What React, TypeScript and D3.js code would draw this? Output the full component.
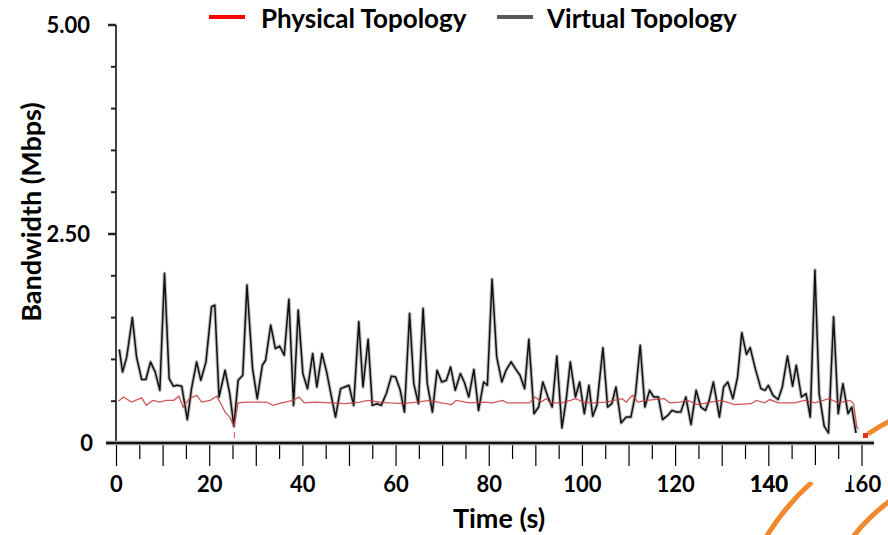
import { scaleLinear, line, range } from "d3";

const width = 888;
const height = 535;

// virtual topology bandwidth (Mbps)
const virtualTime = [
  0.6, 1.3, 2.2, 3.4, 4.3, 5.4, 6.3, 7.3, 8.3, 9.3, 10.3, 11.3, 12.2, 13.0, 14.0, 15.2, 16.1, 17.2, 18.1, 19.2,
  20.4, 21.1, 22.0, 23.3, 24.3, 25.2, 26.1, 27.1, 28.0, 29.2, 30.2, 31.3, 32.0, 33.1, 34.1, 35.0, 36.0, 37.0, 38.0, 39.0,
  40.0, 41.0, 42.1, 43.0, 44.1, 45.1, 46.0, 47.0, 48.1, 49.0, 49.9, 50.9, 52.0, 52.9, 54.0, 54.9, 55.9, 56.8, 57.9, 59.0,
  59.9, 60.9, 61.8, 62.9, 63.8, 64.8, 65.8, 66.7, 67.8, 68.8, 69.8, 70.8, 71.7, 72.7, 73.8, 74.7, 75.6, 76.7, 77.7, 78.8,
  79.6, 80.6, 81.6, 82.7, 83.6, 84.7, 85.6, 86.6, 87.6, 88.5, 89.6, 90.6, 91.5, 92.6, 93.5, 94.5, 95.6, 96.5, 97.4, 98.5,
  99.4, 100.4, 101.4, 102.2, 103.1, 104.4, 105.4, 106.3, 107.2, 108.3, 109.4, 110.4, 111.4, 112.4, 113.4, 114.4, 115.3,
  116.3, 117.2, 118.3, 119.2, 120.2, 121.1, 122.2, 123.3, 124.4, 125.4, 126.4, 127.2, 128.1, 129.4, 130.3, 131.2, 132.3,
  133.3, 134.2, 135.2, 136.0, 137.1, 138.3, 139.2, 139.9, 140.9, 142.0, 142.9, 144.0, 145.1, 145.9, 147.0, 148.0, 148.9,
  149.9, 150.8, 151.9, 152.8, 153.9, 154.9, 155.9, 157.0, 157.8, 158.7,
];
const virtualBw = [
  1.12, 0.85, 1.03, 1.5, 1.03, 0.76, 0.76, 0.97, 0.85, 0.63, 2.03, 0.77, 0.68, 0.69, 0.68, 0.28, 0.65, 0.97, 0.75, 0.97,
  1.63, 1.65, 0.55, 0.87, 0.59, 0.2, 0.75, 0.81, 1.89, 0.89, 0.53, 0.93, 0.99, 1.41, 1.13, 1.16, 1.05, 1.72, 0.45, 1.59,
  0.83, 0.65, 1.07, 0.67, 1.07, 0.85, 0.59, 0.31, 0.65, 0.67, 0.69, 0.45, 1.45, 0.67, 1.24, 0.45, 0.47, 0.45, 0.59, 0.8,
  0.79, 0.63, 0.37, 1.55, 0.71, 0.47, 1.61, 0.71, 0.37, 0.87, 0.73, 0.75, 0.91, 0.63, 0.83, 0.72, 0.55, 0.88, 0.39, 0.73,
  0.69, 1.96, 1.03, 0.73, 0.87, 0.97, 0.89, 0.81, 0.65, 1.24, 0.35, 0.43, 0.73, 0.55, 0.43, 1.04, 0.18, 0.51, 0.97, 0.55,
  0.73, 0.35, 0.69, 0.32, 0.45, 1.14, 0.43, 0.47, 0.67, 0.24, 0.31, 0.31, 0.59, 1.17, 0.43, 0.63, 0.55,
  0.55, 0.28, 0.33, 0.39, 0.37, 0.37, 0.55, 0.22, 0.63, 0.43, 0.39, 0.51, 0.73, 0.31, 0.67, 0.73, 0.53,
  0.79, 1.32, 1.06, 1.14, 0.89, 0.65, 0.63, 0.69, 0.57, 0.52, 0.67, 1.04, 0.68, 0.93, 0.55, 0.59, 0.31,
  2.07, 0.59, 0.2, 0.12, 1.51, 0.35, 0.71, 0.35, 0.43, 0.12,
];

// physical topology bandwidth (Mbps)
const physicalTime = [
  0.4, 1.5, 3.2, 5.4, 6.4, 7.8, 9.3, 10.7, 12.3, 13.4, 14.3, 15.6, 17.2, 18.3, 20.1, 21.5, 22.2, 23.3, 24.3, 25.2,
  26.1, 27.9, 30.0, 32.2, 33.6, 35.4, 37.9, 39.2, 40.3, 42.9, 45.8, 49.0, 52.2, 54.0, 56.5, 58.6, 61.5, 64.4, 67.2,
  69.7, 71.9, 72.9, 75.8, 78.7, 80.7, 82.9, 83.8, 88.6, 89.9, 91.1, 92.2, 93.2, 95.7, 98.6, 100.1, 102.2, 105.1,
  108.5, 109.4, 110.7, 111.9, 113.7, 117.6, 118.7, 120.9, 122.6, 124.7, 127.6, 129.7, 131.5, 132.6, 136.2, 137.3,
  139.1, 140.2, 142.0, 145.6, 147.7, 149.9, 152.9, 154.9, 157.4, 158.2, 158.9, 159.3,
];
const physicalBw = [
  0.5, 0.55, 0.49, 0.54, 0.45, 0.51, 0.49, 0.51, 0.51, 0.56, 0.43, 0.53, 0.57, 0.49, 0.51, 0.56, 0.49, 0.37, 0.31, 0.2,
  0.48, 0.49, 0.49, 0.49, 0.45, 0.48, 0.51, 0.55, 0.48, 0.49, 0.48, 0.47, 0.49, 0.51, 0.49, 0.48, 0.47, 0.49, 0.51,
  0.48, 0.46, 0.51, 0.48, 0.49, 0.48, 0.51, 0.48, 0.48, 0.55, 0.49, 0.53, 0.48, 0.48, 0.53, 0.49, 0.48, 0.49,
  0.53, 0.49, 0.57, 0.49, 0.51, 0.53, 0.48, 0.49, 0.51, 0.46, 0.49, 0.51, 0.48, 0.46, 0.47, 0.51,
  0.48, 0.52, 0.48, 0.48, 0.51, 0.48, 0.53, 0.48, 0.51, 0.47, 0.19, 0.17,
];

const xTickLabels = [0, 20, 40, 60, 80, 100, 120, 140, 160];
const yTickLabels = ["0", "2.50", "5.00"];
const yTickValues = [0, 2.5, 5];

const font = "Lato, 'Open Sans', sans-serif";

const x = scaleLinear().domain([0, 160]).range([116.5, 862]);
const y = scaleLinear().domain([0, 5]).range([443, 25]);

const makeLine = line<[number, number]>()
  .x((d) => x(d[0]))
  .y((d) => y(d[1]));

const virtualPts = virtualTime.map((t, i) => [t, virtualBw[i]] as [number, number]);
const physicalPts = physicalTime.map((t, i) => [t, physicalBw[i]] as [number, number]);

const App = () => {
  return (
    <svg
      width={width}
      height={height}
      style={{ position: "absolute", left: 0, top: 0, background: "#fff" }}
      fontFamily={font}
    >
      {/* legend */}
      <line x1={209} x2={245} y1={17} y2={17} stroke="#ff0000" strokeWidth={4} />
      <text x={261} y={28} fontSize={26} fontWeight={700} fill="#000">
        Physical Topology
      </text>
      <line x1={497} x2={533} y1={17} y2={17} stroke="#595959" strokeWidth={4} />
      <text x={547} y={28} fontSize={26} fontWeight={700} fill="#000">
        Virtual Topology
      </text>

      {/* y axis */}
      <line x1={116} x2={116} y1={y(5)} y2={y(0)} stroke="#000" strokeWidth={1.5} />
      {range(0, 5.01, 0.5).map((v) => (
        <line
          key={v}
          x1={v % 2.5 === 0 ? 108 : 111}
          x2={116}
          y1={y(v)}
          y2={y(v)}
          stroke="#222"
          strokeWidth={v % 2.5 === 0 ? 2.5 : 2}
        />
      ))}
      {yTickValues.map((v, i) => (
        <text
          key={v}
          x={v === 0 ? 93 : 90}
          y={y(v)}
          dy="0.35em"
          textAnchor="end"
          fontSize={22}
          fontWeight={700}
        >
          {yTickLabels[i]}
        </text>
      ))}
      <text
        transform={`translate(41,${212}) rotate(-90)`}
        textAnchor="middle"
        fontSize={27}
        fontWeight={700}
      >
        Bandwidth (Mbps)
      </text>

      {/* x axis ticks */}
      {range(0, 161, 5).map((t) => (
        <line
          key={t}
          x1={x(t)}
          x2={x(t)}
          y1={443}
          y2={t % 10 === 0 ? 466 : 459}
          stroke="#000"
          strokeWidth={1.2}
        />
      ))}
      {xTickLabels.map((t) => (
        <text key={t} x={x(t)} y={484} dy="0.35em" textAnchor="middle" fontSize={22} fontWeight={700}>
          {t}
        </text>
      ))}
      <text x={499} y={519} dy="0.35em" textAnchor="middle" fontSize={27} fontWeight={700}>
        Time (s)
      </text>

      {/* series */}
      <path d={makeLine(virtualPts) ?? ""} fill="none" stroke="#888" strokeOpacity={0.55} strokeWidth={3.6} strokeLinejoin="round" />
      <path d={makeLine(virtualPts) ?? ""} fill="none" stroke="#111" strokeWidth={1.5} strokeLinejoin="round" />
      <path d={makeLine(physicalPts) ?? ""} fill="none" stroke="#c8383a" strokeOpacity={0.85} strokeWidth={1.3} />
      <line x1={x(25.3)} x2={x(25.3)} y1={432} y2={438} stroke="#ff4040" strokeWidth={1} />

      {/* x axis baseline */}
      <line x1={106} x2={874} y1={443} y2={443} stroke="#999" strokeWidth={4.5} />
      <line x1={106} x2={874} y1={443} y2={443} stroke="#111" strokeWidth={2} />

      {/* orange slide decoration */}
      <g fill="none" stroke="#f0892e" strokeWidth={5} strokeLinecap="butt">
        <path d="M868,434 Q878,427 890,421" />
        <path d="M766,537 Q786,505 812,482" />
        <path d="M853,537 Q868,517 890,501" />
      </g>
      <rect x={863} y={433} width={5} height={5} fill="#e03020" />
      <rect x={790} y={465} width={60} height={17} fill="#fff" />
      <text x={x(140)} y={484} dy="0.35em" textAnchor="middle" fontSize={22} fontWeight={700}>
        140
      </text>
    </svg>
  );
};

export default App;
